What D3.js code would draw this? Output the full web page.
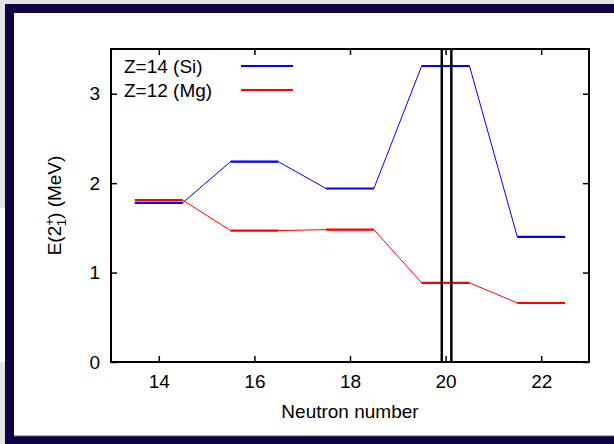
<!DOCTYPE html>
<html>
<head>
<meta charset="utf-8">
<script src="https://cdn.jsdelivr.net/npm/d3@7"></script>
<style>
  body { margin: 0; background: #fff; }
  text { font-family: "Liberation Sans", Arial, sans-serif; }
</style>
</head>
<body>
<div id="chart"></div>
<script>
// neutron numbers and E(2+) energies (MeV)
var neutrons = [14, 16, 18, 20, 22];
var siEnergy = [1.78, 2.24, 1.94, 3.31, 1.40];
var mgEnergy = [1.81, 1.47, 1.48, 0.885, 0.66];
var xTicks = [14, 16, 18, 20, 22];
var yTicks = [0, 1, 2, 3];
var shellLines = [19.92, 20.12];
var seriesNames = ["Z=14 (Si)", "Z=12 (Mg)"];
var seriesColors = ["#0000ff", "#ff0000"];

var W = 614, H = 444;
// plot box (note: "top" is reserved on window, so use pl/pr/pt/pb)
var pl = 111, pr = 589, pt = 49, pb = 362;

var svg = d3.select("#chart").append("svg").attr("width", W).attr("height", H);

// slide frame
svg.append("rect").attr("x", 0).attr("y", 0).attr("width", 5).attr("height", 208).attr("fill", "#e3e3e3");
svg.append("rect").attr("x", 0).attr("y", 362).attr("width", 5).attr("height", H - 362).attr("fill", "#e3e3e3");
svg.append("rect").attr("x", 0).attr("y", 0).attr("width", W).attr("height", 4).attr("fill", "#e3e3e3");
svg.append("rect").attr("x", 5).attr("y", 4).attr("width", W - 5).attr("height", 9).attr("fill", "#0b0548");
svg.append("rect").attr("x", 5).attr("y", 4).attr("width", 9).attr("height", H - 4).attr("fill", "#0b0548");
svg.append("rect").attr("x", 5).attr("y", 436).attr("width", W - 5).attr("height", 8).attr("fill", "#0b0548");
svg.append("line").attr("x1", 14).attr("x2", W).attr("y1", 436).attr("y2", 436).attr("stroke", "#5a5890");

var x = d3.scaleLinear().domain([13, 23]).range([pl, pr]);
var y = d3.scaleLinear().domain([0, 3.5]).range([pb, pt]);

// axes with inward ticks
var gx = svg.append("g").attr("transform", "translate(0," + pb + ")")
    .call(d3.axisBottom(x).tickValues(xTicks).tickSizeInner(-6).tickSizeOuter(0).tickPadding(13));
var gxt = svg.append("g").attr("transform", "translate(0," + pt + ")")
    .call(d3.axisTop(x).tickValues(xTicks).tickSizeInner(-6).tickSizeOuter(0).tickFormat(""));
var gy = svg.append("g").attr("transform", "translate(" + pl + ",0)")
    .call(d3.axisLeft(y).tickValues(yTicks).tickFormat(d3.format("d"))
        .tickSizeInner(-6).tickSizeOuter(0).tickPadding(11));
var gyr = svg.append("g").attr("transform", "translate(" + pr + ",0)")
    .call(d3.axisRight(y).tickValues(yTicks).tickSizeInner(-6).tickSizeOuter(0).tickFormat(""));

[gx, gxt, gy, gyr].forEach(function(g){
    g.select(".domain").remove();
    g.selectAll(".tick line").attr("stroke", "#000").attr("stroke-width", 1.5);
    g.selectAll(".tick text").attr("font-size", 19).attr("fill", "#000")
        .attr("font-family", "Liberation Sans, Arial, sans-serif");
});

// series: thin connectors plus thicker level bars
var data = [siEnergy, mgEnergy];
data.forEach(function(vals, k){
    var g = svg.append("g");
    var pts = [];
    neutrons.forEach(function(n, i){
        pts.push([n - 0.5, vals[i]]);
        pts.push([n + 0.5, vals[i]]);
    });
    g.append("path")
        .attr("d", d3.line().x(function(d){ return x(d[0]); }).y(function(d){ return y(d[1]); })(pts))
        .attr("fill", "none").attr("stroke", seriesColors[k]).attr("stroke-width", 1);
    g.selectAll("line").data(neutrons).enter().append("line")
        .attr("x1", function(d){ return x(d - 0.5); })
        .attr("x2", function(d){ return x(d + 0.5); })
        .attr("y1", function(d, i){ return y(vals[i]); })
        .attr("y2", function(d, i){ return y(vals[i]); })
        .attr("stroke", seriesColors[k]).attr("stroke-width", 2.2);
});

// N=20 shell lines
svg.selectAll("line.shell").data(shellLines).enter().append("line")
    .attr("class", "shell")
    .attr("x1", function(d){ return x(d); }).attr("x2", function(d){ return x(d); })
    .attr("y1", pt).attr("y2", pb)
    .attr("stroke", "#000").attr("stroke-width", 2.5);

// frame
svg.append("rect").attr("x", pl).attr("y", pt).attr("width", pr - pl).attr("height", pb - pt)
    .attr("fill", "none").attr("stroke", "#000").attr("stroke-width", 2);

// legend
seriesNames.forEach(function(name, k){
    var ly = 66 + k * 24;
    svg.append("text").attr("x", 124).attr("y", ly + 7).attr("font-size", 19).text(name);
    svg.append("line").attr("x1", 241).attr("x2", 293).attr("y1", ly).attr("y2", ly)
        .attr("stroke", seriesColors[k]).attr("stroke-width", 2.2);
});

// axis titles
svg.append("text").attr("x", (pl + pr) / 2).attr("y", 418)
    .attr("text-anchor", "middle").attr("font-size", 19).text("Neutron number");

var yl = svg.append("text").attr("transform", "translate(61," + ((pt + pb) / 2) + ") rotate(-90)")
    .attr("text-anchor", "middle").attr("font-size", 19);
yl.append("tspan").text("E(2");
yl.append("tspan").attr("font-size", 13).attr("dy", -7).text("+");
yl.append("tspan").attr("font-size", 13).attr("dx", -8).attr("dy", 12).text("1");
yl.append("tspan").attr("dy", -5).text(") (MeV)");
</script>
</body>
</html>
